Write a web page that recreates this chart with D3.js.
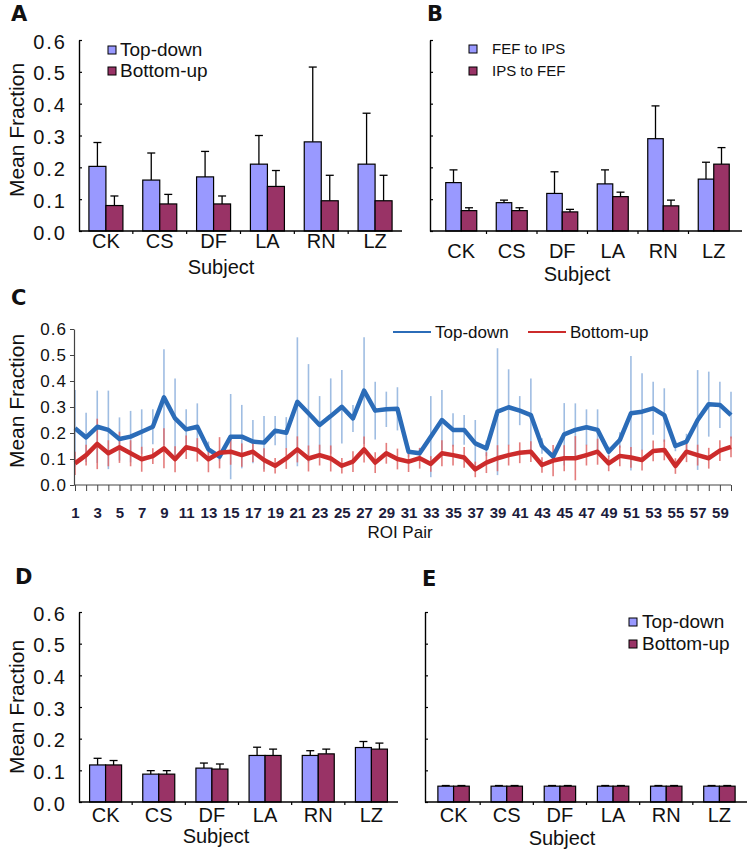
<!DOCTYPE html>
<html>
<head>
<meta charset="utf-8">
<script src="https://cdn.jsdelivr.net/npm/d3@7"></script>
<style>
  body { margin: 0; background: #fff; }
  svg { display: block; }
  text { font-family: 'Liberation Sans', Arial, sans-serif; fill: #111; }
</style>
</head>
<body>
<div id="container"></div>
<script>
/* DATA */
const subjects = ['CK', 'CS', 'DF', 'LA', 'RN', 'LZ']
const yTicks = [0, 0.1, 0.2, 0.3, 0.4, 0.5, 0.6]

// panel A
const aTopDown = [0.203, 0.160, 0.170, 0.210, 0.280, 0.210]
const aTopDownErr = [0.075, 0.085, 0.080, 0.090, 0.235, 0.160]
const aBottomUp = [0.080, 0.085, 0.085, 0.140, 0.095, 0.095]
const aBottomUpErr = [0.030, 0.030, 0.025, 0.050, 0.080, 0.080]

// panel B
const bFefToIps = [0.152, 0.089, 0.118, 0.148, 0.290, 0.163]
const bFefToIpsErr = [0.040, 0.008, 0.068, 0.044, 0.103, 0.053]
const bIpsToFef = [0.064, 0.064, 0.060, 0.108, 0.079, 0.210]
const bIpsToFefErr = [0.009, 0.009, 0.008, 0.014, 0.018, 0.052]

// panel C (ROI pairs 1..60, mean and sd)
const roiPairs = d3.range(1, 61)
const cTopDown = [0.218, 0.183, 0.224, 0.212, 0.177, 0.186, 0.205, 0.224, 0.337, 0.256,
  0.214, 0.224, 0.137, 0.109, 0.186, 0.186, 0.167, 0.163, 0.209, 0.201,
  0.320, 0.276, 0.231, 0.265, 0.301, 0.256, 0.363, 0.286, 0.291, 0.293,
  0.128, 0.122, 0.186, 0.250, 0.212, 0.212, 0.160, 0.141, 0.282, 0.299,
  0.286, 0.269, 0.150, 0.109, 0.195, 0.212, 0.222, 0.212, 0.128, 0.173,
  0.276, 0.282, 0.295, 0.269, 0.150, 0.167, 0.250, 0.311, 0.308, 0.269]
const cTopDownSd = [0.147, 0.095, 0.139, 0.151, 0.083, 0.099, 0.086, 0.067, 0.185, 0.154,
  0.077, 0.090, 0.030, 0.015, 0.164, 0.122, 0.083, 0.102, 0.056, 0.060,
  0.248, 0.189, 0.111, 0.145, 0.141, 0.052, 0.205, 0.111, 0.068, 0.083,
  0.020, 0.020, 0.156, 0.115, 0.064, 0.057, 0.090, 0.030, 0.244, 0.146,
  0.056, 0.141, 0.030, 0.020, 0.120, 0.102, 0.069, 0.079, 0.020, 0.030,
  0.220, 0.148, 0.102, 0.103, 0.020, 0.030, 0.192, 0.125, 0.089, 0.090]
const cBottomUp = [0.083, 0.115, 0.158, 0.122, 0.145, 0.122, 0.099, 0.111, 0.141, 0.099,
  0.145, 0.135, 0.099, 0.124, 0.128, 0.115, 0.128, 0.096, 0.074, 0.102,
  0.137, 0.102, 0.115, 0.102, 0.074, 0.090, 0.137, 0.086, 0.122, 0.100,
  0.090, 0.103, 0.081, 0.122, 0.115, 0.106, 0.060, 0.086, 0.103, 0.115,
  0.124, 0.128, 0.077, 0.094, 0.103, 0.103, 0.115, 0.128, 0.083, 0.112,
  0.106, 0.096, 0.131, 0.135, 0.073, 0.128, 0.115, 0.103, 0.132, 0.147]
const cBottomUpSd = [0.045, 0.040, 0.097, 0.050, 0.060, 0.050, 0.048, 0.030, 0.077, 0.050,
  0.045, 0.045, 0.050, 0.060, 0.050, 0.045, 0.040, 0.045, 0.030, 0.040,
  0.050, 0.050, 0.040, 0.050, 0.030, 0.040, 0.050, 0.040, 0.040, 0.040,
  0.040, 0.040, 0.030, 0.050, 0.040, 0.040, 0.030, 0.040, 0.050, 0.040,
  0.040, 0.040, 0.030, 0.060, 0.050, 0.085, 0.040, 0.050, 0.030, 0.040,
  0.040, 0.040, 0.040, 0.040, 0.030, 0.040, 0.040, 0.040, 0.040, 0.040]

// panel D
const dTopDown = [0.117, 0.088, 0.107, 0.147, 0.147, 0.172]
const dTopDownErr = [0.021, 0.011, 0.016, 0.026, 0.015, 0.019]
const dBottomUp = [0.117, 0.088, 0.104, 0.147, 0.152, 0.167]
const dBottomUpErr = [0.014, 0.011, 0.016, 0.020, 0.015, 0.019]

// panel E
const eTopDown = [0.050, 0.050, 0.050, 0.050, 0.050, 0.050]
const eTopDownErr = [0.002, 0.002, 0.002, 0.002, 0.002, 0.002]
const eBottomUp = [0.050, 0.050, 0.050, 0.050, 0.050, 0.050]
const eBottomUpErr = [0.002, 0.002, 0.002, 0.002, 0.002, 0.002]

/* SET UP */
const W = 755, H = 853
const barBlue = '#9999ff', barPlum = '#993366'
const lineBlue = '#2b6cb8', lineRed = '#cc2b2b'

const svg = d3.select('#container').append('svg')
  .attr('width', W).attr('height', H)
svg.append('rect').attr('width', W).attr('height', H).attr('fill', '#fff')

drawBarPanel({ letter: 'A', lx: 11, ly: 21, axisX: 79, band: [79, 402], axisEnd: 402, yRange: [231, 40],
  labels: true, catY: 248, subjX: 221, subjY: 274, yTitle: [17, 130],
  s1: aTopDown, e1: aTopDownErr, s2: aBottomUp, e2: aBottomUpErr, barW: 17,
  legend: { x: 108, y: [50, 71], size: 19, tx: 120, names: ['Top-down', 'Bottom-up'] } })

drawBarPanel({ letter: 'B', lx: 427, ly: 21, axisX: 430, band: [436, 739], axisEnd: 742, yRange: [231, 40],
  labels: false, catY: 258, subjX: 577, subjY: 281,
  s1: bFefToIps, e1: bFefToIpsErr, s2: bIpsToFef, e2: bIpsToFefErr, barW: 15.5,
  legend: { x: 469, y: [49, 71], size: 15, tx: 492, names: ['FEF to IPS', 'IPS to FEF'] } })

drawBarPanel({ letter: 'D', lx: 15, ly: 584, axisX: 79, band: [79, 398], axisEnd: 398, yRange: [802, 612],
  labels: true, catY: 822, subjX: 216, subjY: 843, yTitle: [17, 707],
  s1: dTopDown, e1: dTopDownErr, s2: dBottomUp, e2: dBottomUpErr, barW: 16 })

drawBarPanel({ letter: 'E', lx: 422, ly: 586, axisX: 425, band: [427, 746], axisEnd: 747, yRange: [802, 612],
  labels: false, catY: 822, subjX: 562, subjY: 845,
  s1: eTopDown, e1: eTopDownErr, s2: eBottomUp, e2: eBottomUpErr, barW: 15.7,
  legend: { x: 629, y: [622, 644], size: 19, tx: 642, names: ['Top-down', 'Bottom-up'] } })

drawLinePanel()

/* FUNCTIONS */
function drawBarPanel(c) {
  const g = svg.append('g')
  const y = d3.scaleLinear().domain([0, 0.6]).range(c.yRange)
  const x = d3.scaleBand().domain(subjects).range(c.band)

  g.append('text').attr('x', c.lx).attr('y', c.ly)
    .style('font-family', 'DejaVu Sans').style('font-weight', 'bold').style('font-size', '21px')
    .text(c.letter)

  // bars
  const series = [[c.s1, c.e1, barBlue], [c.s2, c.e2, barPlum]]
  series.forEach(function(s, k) {
    subjects.forEach(function(name, i) {
      const cx = x(name) + x.bandwidth() / 2
      const bx = k === 0 ? cx - c.barW : cx
      g.append('rect')
        .attr('x', bx).attr('y', y(s[0][i]))
        .attr('width', c.barW).attr('height', y(0) - y(s[0][i]))
        .attr('fill', s[2]).attr('stroke', '#000').attr('stroke-width', 1.2)
      const mx = bx + c.barW / 2
      const top = y(s[0][i] + s[1][i])
      g.append('line').attr('x1', mx).attr('x2', mx).attr('y1', y(s[0][i])).attr('y2', top)
        .attr('stroke', '#000').attr('stroke-width', 1.3)
      g.append('line').attr('x1', mx - 4).attr('x2', mx + 4).attr('y1', top).attr('y2', top)
        .attr('stroke', '#000').attr('stroke-width', 1.3)
    })
  })

  // y axis, ticks inside
  const yAxis = d3.axisLeft(y).tickValues(yTicks).tickSizeInner(-3).tickSizeOuter(0)
    .tickPadding(12).tickFormat(c.labels ? d3.format('.1f') : '')
  const ya = g.append('g').attr('transform', 'translate(' + c.axisX + ',0)').call(yAxis)
  ya.select('.domain').attr('stroke', '#000').attr('stroke-width', 1.4)
  ya.selectAll('.tick line').attr('stroke', '#000').attr('stroke-width', 1.2)
  ya.selectAll('.tick text').attr('dy', '0.4em')
    .style('font-size', '20px').style('letter-spacing', '2px').style('fill', '#111')

  // x axis
  const xAxis = d3.axisBottom(x).tickSize(0).tickPadding(0)
  const xa = g.append('g').attr('transform', 'translate(0,' + y(0) + ')').call(xAxis)
  xa.select('.domain').remove()
  xa.selectAll('.tick text').attr('y', c.catY - y(0)).attr('dy', 0)
    .style('font-size', '20px').style('fill', '#111')
  g.append('line').attr('x1', c.axisX).attr('x2', c.axisEnd).attr('y1', y(0)).attr('y2', y(0))
    .attr('stroke', '#000').attr('stroke-width', 1.4)
  subjects.slice(1).forEach(function(name) {
    g.append('line').attr('x1', x(name)).attr('x2', x(name)).attr('y1', y(0)).attr('y2', y(0) + 3)
      .attr('stroke', '#000').attr('stroke-width', 1.2)
  })

  g.append('text').attr('x', c.subjX).attr('y', c.subjY).attr('text-anchor', 'middle')
    .style('font-size', '20px').text('Subject')

  if (c.yTitle) {
    g.append('text').attr('transform', 'translate(' + (c.yTitle[0] + 7) + ',' + c.yTitle[1] + ') rotate(-90)')
      .attr('text-anchor', 'middle').style('font-size', '21px').text('Mean Fraction')
  }

  if (c.legend) {
    const L = c.legend
    ;[barBlue, barPlum].forEach(function(col, k) {
      g.append('rect').attr('x', L.x).attr('y', L.y[k] - 4).attr('width', 8).attr('height', 8)
        .attr('fill', col).attr('stroke', '#000').attr('stroke-width', 1)
      g.append('text').attr('x', L.tx).attr('y', L.y[k] + L.size * 0.33)
        .style('font-size', L.size + 'px').text(L.names[k])
    })
  }
}

function drawLinePanel() {
  const g = svg.append('g')
  const y = d3.scaleLinear().domain([0, 0.6]).range([485, 329])
  const x = d3.scalePoint().domain(roiPairs).range([75, 731])

  g.append('text').attr('x', 11).attr('y', 305)
    .style('font-family', 'DejaVu Sans').style('font-weight', 'bold').style('font-size', '21px')
    .text('C')

  // error bars
  const errSets = [[cTopDown, cTopDownSd, '#8fb2de'], [cBottomUp, cBottomUpSd, '#e06666']]
  errSets.forEach(function(s) {
    g.append('g').selectAll('line').data(roiPairs).enter().append('line')
      .attr('x1', function(d) { return x(d) }).attr('x2', function(d) { return x(d) })
      .attr('y1', function(d, i) { return y(Math.max(0, s[0][i] - s[1][i])) })
      .attr('y2', function(d, i) { return y(s[0][i] + s[1][i]) })
      .attr('stroke', s[2]).attr('stroke-width', 1.6).attr('opacity', 0.85)
  })

  const line = d3.line().x(function(d) { return x(d[0]) }).y(function(d) { return y(d[1]) })
  ;[[cTopDown, lineBlue], [cBottomUp, lineRed]].forEach(function(s) {
    g.append('path').datum(roiPairs.map(function(d, i) { return [d, s[0][i]] }))
      .attr('d', line).attr('fill', 'none').attr('stroke', s[1]).attr('stroke-width', 4.5)
      .attr('stroke-linejoin', 'round')
  })

  // axes
  const yAxis = d3.axisLeft(y).tickValues(yTicks).tickSizeInner(4).tickSizeOuter(0)
    .tickPadding(3).tickFormat(d3.format('.1f'))
  const ya = g.append('g').attr('transform', 'translate(74,0)').call(yAxis)
  ya.select('.domain').attr('stroke', '#444').attr('stroke-width', 1.2)
  ya.selectAll('.tick line').attr('stroke', '#444')
  ya.selectAll('.tick text').attr('dy', '0.35em')
    .style('font-size', '17px').style('letter-spacing', '1px').style('fill', '#111')

  const xAxis = d3.axisBottom(x).tickSizeInner(6).tickSizeOuter(0).tickPadding(6)
    .tickFormat(function(d) { return d % 2 === 1 ? d : '' })
  const xa = g.append('g').attr('transform', 'translate(0,485)').call(xAxis)
  xa.select('.domain').attr('stroke', '#444').attr('stroke-width', 1.2)
    .attr('d', 'M74,0H731')
  xa.selectAll('.tick line').attr('stroke', '#444')
  xa.selectAll('.tick text').style('font-size', '15px').style('font-weight', 'bold')
    .style('fill', '#1c1c3c').attr('y', 22)

  g.append('text').attr('x', 400).attr('y', 538).attr('text-anchor', 'middle')
    .style('font-size', '17px').text('ROI Pair')
  g.append('text').attr('transform', 'translate(24,401) rotate(-90)')
    .attr('text-anchor', 'middle').style('font-size', '21px').text('Mean Fraction')

  // legend
  const legend = [[393, lineBlue, 'Top-down'], [528, lineRed, 'Bottom-up']]
  legend.forEach(function(l) {
    g.append('line').attr('x1', l[0]).attr('x2', l[0] + 38).attr('y1', 332).attr('y2', 332)
      .attr('stroke', l[1]).attr('stroke-width', 2.2)
    g.append('text').attr('x', l[0] + 42).attr('y', 338).style('font-size', '17px').text(l[2])
  })
}
</script>
</body>
</html>
